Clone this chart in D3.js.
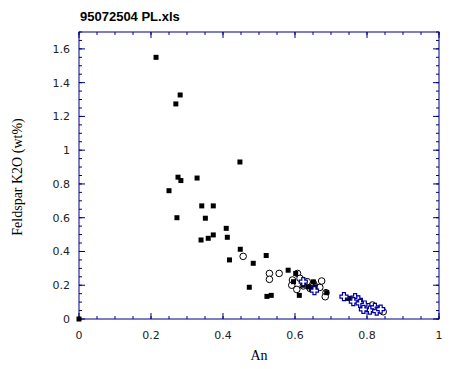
<!DOCTYPE html>
<html>
<head>
<meta charset="utf-8">
<script src="https://cdn.jsdelivr.net/npm/d3@7"></script>
<style>
  body { margin: 0; background: #fff; }
</style>
</head>
<body>
<script>
// data: An vs feldspar K2O (wt%)
var squaresX = [0, 0.214, 0.281, 0.269, 0.275, 0.283, 0.25, 0.272, 0.328, 0.447, 0.341, 0.351, 0.373, 0.339, 0.359, 0.373, 0.409, 0.412, 0.448, 0.418, 0.484, 0.52, 0.473, 0.522, 0.534, 0.581, 0.602, 0.612, 0.596, 0.623, 0.637, 0.651, 0.656, 0.646, 0.688, 0.748, 0.753];
var squaresY = [0, 1.55, 1.327, 1.274, 0.84, 0.82, 0.76, 0.60, 0.835, 0.93, 0.67, 0.597, 0.67, 0.468, 0.478, 0.498, 0.537, 0.484, 0.413, 0.35, 0.33, 0.376, 0.188, 0.134, 0.14, 0.289, 0.27, 0.14, 0.221, 0.20, 0.19, 0.22, 0.19, 0.18, 0.156, 0.122, 0.122];

var circlesX = [0.456, 0.529, 0.529, 0.556, 0.607, 0.593, 0.591, 0.605, 0.614, 0.623, 0.634, 0.651, 0.658, 0.674, 0.669, 0.686, 0.684, 0.642, 0.815, 0.845];
var circlesY = [0.371, 0.27, 0.235, 0.27, 0.27, 0.231, 0.20, 0.175, 0.241, 0.196, 0.221, 0.211, 0.19, 0.225, 0.187, 0.156, 0.132, 0.181, 0.083, 0.043];

var crossesX = [0.623, 0.654, 0.736, 0.767, 0.776, 0.762, 0.781, 0.794, 0.804, 0.808, 0.822, 0.827, 0.838, 0.79];
var crossesY = [0.221, 0.168, 0.132, 0.127, 0.113, 0.103, 0.092, 0.083, 0.067, 0.053, 0.069, 0.047, 0.059, 0.057];

var xTicks = [0, 0.2, 0.4, 0.6, 0.8, 1];
var yTicks = [0, 0.2, 0.4, 0.6, 0.8, 1, 1.2, 1.4, 1.6];

var axisColor = '#000080';

var svg = d3.select('body').append('svg')
    .attr('width', 457)
    .attr('height', 369);

var x = d3.scaleLinear().domain([0, 1]).range([79, 439]);
var y = d3.scaleLinear().domain([0, 1.7]).range([319, 32]);

var minorX = d3.range(0, 1.0001, 0.05);
var minorY = d3.range(0, 1.7001, 0.05);

// title
svg.append('text')
  .attr('x', 80)
  .attr('y', 21)
  .attr('font-family', 'Liberation Sans, Arial, sans-serif')
  .attr('font-weight', 'bold')
  .attr('font-size', '13px')
  .text('95072504 PL.xls');

// frame
svg.append('rect')
  .attr('x', x(0)).attr('y', y(1.7))
  .attr('width', x(1) - x(0)).attr('height', y(0) - y(1.7))
  .attr('fill', 'none')
  .attr('stroke', axisColor);

// inward ticks on all four sides
function tickLines(vals, len) {
  vals.forEach(function (v) {
    svg.append('line').attr('x1', x(v)).attr('x2', x(v)).attr('y1', y(0)).attr('y2', y(0) - len).attr('stroke', axisColor);
    svg.append('line').attr('x1', x(v)).attr('x2', x(v)).attr('y1', y(1.7)).attr('y2', y(1.7) + len).attr('stroke', axisColor);
  });
}
function tickLinesY(vals, len) {
  vals.forEach(function (v) {
    svg.append('line').attr('y1', y(v)).attr('y2', y(v)).attr('x1', x(0)).attr('x2', x(0) + len).attr('stroke', axisColor);
    svg.append('line').attr('y1', y(v)).attr('y2', y(v)).attr('x1', x(1)).attr('x2', x(1) - len).attr('stroke', axisColor);
  });
}
tickLines(minorX, 3);
tickLines(xTicks, 6);
tickLinesY(minorY, 3);
tickLinesY(yTicks, 6);

// tick labels
svg.selectAll('.xl').data(xTicks).enter().append('text')
  .attr('x', function (d) { return x(d); })
  .attr('y', 339)
  .attr('text-anchor', 'middle')
  .attr('font-family', 'DejaVu Sans, sans-serif')
  .attr('font-size', '11px')
  .attr('fill', '#222')
  .text(function (d) { return d; });

svg.selectAll('.yl').data(yTicks).enter().append('text')
  .attr('x', 70)
  .attr('y', function (d) { return y(d) + 4; })
  .attr('text-anchor', 'end')
  .attr('font-family', 'DejaVu Sans, sans-serif')
  .attr('font-size', '11px')
  .attr('fill', '#222')
  .text(function (d) { return d; });

// axis titles
svg.append('text')
  .attr('x', 259).attr('y', 360)
  .attr('text-anchor', 'middle')
  .attr('font-family', 'Liberation Serif, Times New Roman, serif')
  .attr('font-size', '14px')
  .text('An');

svg.append('text')
  .attr('transform', 'translate(22,' + 177 + ') rotate(-90)')
  .attr('text-anchor', 'middle')
  .attr('font-family', 'Liberation Serif, Times New Roman, serif')
  .attr('font-size', '14px')
  .text('Feldspar K2O (wt%)');

// circles (open)
svg.selectAll('.circ').data(d3.range(circlesX.length)).enter().append('circle')
  .attr('cx', function (i) { return x(circlesX[i]); })
  .attr('cy', function (i) { return y(circlesY[i]); })
  .attr('r', 3.3)
  .attr('fill', '#fff')
  .attr('stroke', '#000');

// filled squares
svg.selectAll('.sq').data(d3.range(squaresX.length)).enter().append('rect')
  .attr('x', function (i) { return x(squaresX[i]) - 2.5; })
  .attr('y', function (i) { return y(squaresY[i]) - 2.5; })
  .attr('width', 5)
  .attr('height', 5)
  .attr('fill', '#000');

// open blue crosses
var crossPath = 'M-1.5,-4H1.5V-1.5H4V1.5H1.5V4H-1.5V1.5H-4V-1.5H-1.5Z';
svg.selectAll('.cr').data(d3.range(crossesX.length)).enter().append('path')
  .attr('d', crossPath)
  .attr('transform', function (i) { return 'translate(' + x(crossesX[i]) + ',' + y(crossesY[i]) + ')'; })
  .attr('fill', '#fff')
  .attr('stroke', '#0000a0')
  .attr('stroke-width', 1.2);
</script>
</body>
</html>
